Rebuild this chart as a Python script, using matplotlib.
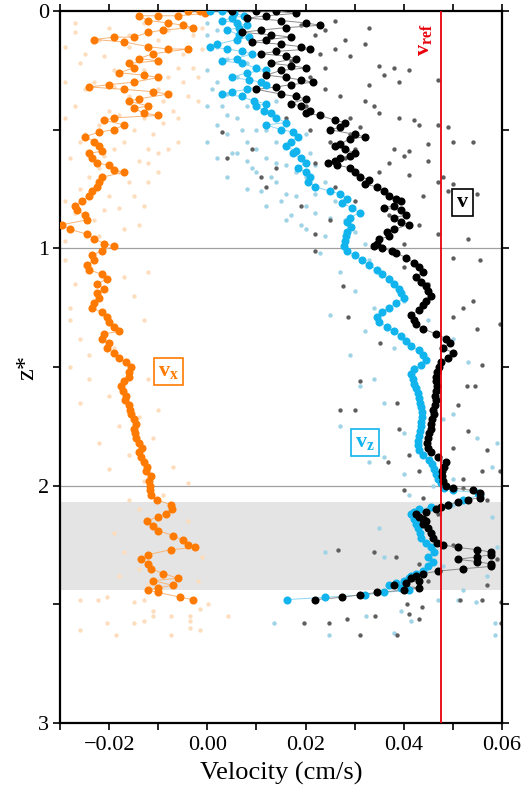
import numpy as np
import matplotlib.pyplot as plt

plt.rcParams.update({
    "font.family": ["Liberation Serif", "DejaVu Serif"],
    "mathtext.fontset": "custom",
    "mathtext.rm": "Liberation Serif",
    "mathtext.bf": "Liberation Serif:bold",
    "mathtext.it": "Liberation Serif:italic",
    "axes.linewidth": 1.6,
})

ORANGE, ORANGE_LT, ORANGE_LN = "#FF7A00", "#FDDDBE", "#F7B57A"
BLUE, BLUE_LT, BLUE_LN = "#12B4EE", "#9FD3E6", "#8ED6F2"
BLACK, GREY_PT, GREY_LN = "#000000", "#5E5E5E", "#8A8A8A"
RED = "#E8000B"

V_REF = 0.0475
BAND = (2.07, 2.44)

# ---- main profiles (depth z*, velocity cm/s) ----
VX_Z = [0.00, 0.00, 0.01, 0.02, 0.02, 0.02, 0.04, 0.05, 0.06, 0.07, 0.08, 0.09, 0.11, 0.11, 0.12,
        0.13, 0.15, 0.16, 0.16, 0.18, 0.20, 0.21, 0.22, 0.24, 0.26, 0.27, 0.28, 0.30, 0.31, 0.32,
        0.33, 0.34, 0.35, 0.37, 0.38, 0.40, 0.41, 0.43, 0.44, 0.45, 0.46, 0.48, 0.50, 0.51, 0.53,
        0.55, 0.57, 0.59, 0.60, 0.62, 0.64, 0.65, 0.67, 0.68, 0.70, 0.72, 0.74, 0.76, 0.78, 0.80,
        0.82, 0.84, 0.86, 0.88, 0.90, 0.92, 0.94, 0.96, 0.98, 0.99, 1.01, 1.03, 1.05, 1.07, 1.09,
        1.11, 1.13, 1.15, 1.17, 1.19, 1.21, 1.23, 1.25, 1.27, 1.29, 1.31, 1.33, 1.35, 1.36, 1.38,
        1.40, 1.42, 1.44, 1.46, 1.48, 1.50, 1.52, 1.54, 1.56, 1.58, 1.60, 1.62, 1.64, 1.66, 1.68,
        1.70, 1.72, 1.74, 1.76, 1.78, 1.80, 1.82, 1.84, 1.86, 1.88, 1.90, 1.92, 1.94, 1.96, 1.98,
        2.00, 2.02, 2.04, 2.06, 2.08, 2.10, 2.12, 2.13, 2.15, 2.17, 2.19, 2.21, 2.23, 2.25, 2.26,
        2.27, 2.29, 2.31, 2.33, 2.35, 2.37, 2.39, 2.40, 2.42, 2.43, 2.44, 2.45, 2.47, 2.48]
VX = [-0.0040, -0.0015, -0.0005, -0.0060, -0.0100, -0.0140, -0.0120, -0.0080, -0.0050, -0.0030,
      -0.0090, -0.0120, -0.0150, -0.0190, -0.0230, -0.0170, -0.0120, -0.0080, -0.0040, -0.0110,
      -0.0140, -0.0100, -0.0160, -0.0150, -0.0180, -0.0130, -0.0100, -0.0150, -0.0200, -0.0240,
      -0.0170, -0.0110, -0.0080, -0.0140, -0.0160, -0.0120, -0.0150, -0.0130, -0.0100, -0.0190,
      -0.0210, -0.0170, -0.0190, -0.0220, -0.0250, -0.0230, -0.0220, -0.0215, -0.0240, -0.0235,
      -0.0225, -0.0200, -0.0190, -0.0170, -0.0215, -0.0220, -0.0225, -0.0235, -0.0240, -0.0255,
      -0.0270, -0.0265, -0.0250, -0.0245, -0.0295, -0.0280, -0.0245, -0.0230, -0.0210, -0.0190,
      -0.0215, -0.0235, -0.0230, -0.0245, -0.0240, -0.0215, -0.0205, -0.0225, -0.0210, -0.0225,
      -0.0220, -0.0230, -0.0235, -0.0215, -0.0205, -0.0200, -0.0190, -0.0180, -0.0210, -0.0215,
      -0.0200, -0.0205, -0.0190, -0.0180, -0.0165, -0.0155, -0.0160, -0.0160, -0.0170, -0.0175,
      -0.0172, -0.0165, -0.0168, -0.0160, -0.0158, -0.0155, -0.0150, -0.0145, -0.0150, -0.0148,
      -0.0145, -0.0140, -0.0133, -0.0140, -0.0135, -0.0128, -0.0122, -0.0125, -0.0115, -0.0118,
      -0.0117, -0.0117, -0.0115, -0.0102, -0.0075, -0.0072, -0.0085, -0.0100, -0.0123, -0.0110,
      -0.0100, -0.0070, -0.0050, -0.0040, -0.0025, -0.0075, -0.0120, -0.0135, -0.0120, -0.0115,
      -0.0090, -0.0060, -0.0110, -0.0070, -0.0100, -0.0120, -0.0100, -0.0055, -0.0030]

VZ_Z = [0.00, 0.00, 0.01, 0.02, 0.03, 0.04, 0.05, 0.06, 0.07, 0.08, 0.10, 0.11, 0.12, 0.14, 0.15,
        0.16, 0.17, 0.18, 0.20, 0.21, 0.22, 0.24, 0.25, 0.26, 0.28, 0.29, 0.30, 0.31, 0.33, 0.34,
        0.35, 0.36, 0.38, 0.39, 0.40, 0.42, 0.43, 0.45, 0.47, 0.48, 0.50, 0.51, 0.53, 0.55, 0.57,
        0.59, 0.60, 0.62, 0.64, 0.66, 0.68, 0.70, 0.72, 0.74, 0.76, 0.77, 0.79, 0.81, 0.83, 0.85,
        0.87, 0.89, 0.91, 0.93, 0.95, 0.97, 0.99, 1.01, 1.03, 1.05, 1.07, 1.09, 1.11, 1.13, 1.15,
        1.17, 1.19, 1.21, 1.23, 1.25, 1.27, 1.29, 1.31, 1.33, 1.35, 1.37, 1.39, 1.41, 1.43, 1.45,
        1.47, 1.49, 1.51, 1.53, 1.55, 1.57, 1.59, 1.61, 1.63, 1.65, 1.67, 1.69, 1.71, 1.73, 1.75,
        1.77, 1.79, 1.81, 1.83, 1.85, 1.87, 1.89, 1.91, 1.93, 1.95, 1.97, 1.99, 2.01, 2.02, 2.03,
        2.04, 2.06, 2.08, 2.09, 2.10, 2.11, 2.12, 2.14, 2.16, 2.18, 2.20, 2.22, 2.24, 2.26, 2.28,
        2.30, 2.32, 2.34, 2.36, 2.37, 2.38, 2.39, 2.40, 2.41, 2.42, 2.43, 2.44, 2.45, 2.46, 2.47,
        2.48]
VZ = [0.0005, 0.0030, 0.0055, 0.0075, 0.0050, 0.0030, 0.0060, 0.0080, 0.0065, 0.0040,
      0.0065, 0.0085, 0.0060, 0.0020, 0.0005, 0.0040, 0.0070, 0.0090, 0.0060, 0.0030,
      0.0070, 0.0100, 0.0120, 0.0080, 0.0050, 0.0085, 0.0110, 0.0120, 0.0080, 0.0050,
      0.0030, 0.0070, 0.0095, 0.0120, 0.0100, 0.0115, 0.0130, 0.0140, 0.0160, 0.0120,
      0.0150, 0.0175, 0.0185, 0.0170, 0.0160, 0.0180, 0.0175, 0.0190, 0.0200, 0.0185,
      0.0200, 0.0210, 0.0205, 0.0220, 0.0250, 0.0270, 0.0285, 0.0275, 0.0295, 0.0310,
      0.0290, 0.0285, 0.0292, 0.0285, 0.0282, 0.0280, 0.0278, 0.0285, 0.0300, 0.0315,
      0.0330, 0.0345, 0.0355, 0.0370, 0.0380, 0.0390, 0.0395, 0.0400, 0.0385, 0.0370,
      0.0355, 0.0345, 0.0350, 0.0365, 0.0380, 0.0395, 0.0405, 0.0415, 0.0430, 0.0440,
      0.0445, 0.0435, 0.0420, 0.0415, 0.0418, 0.0420, 0.0425, 0.0428, 0.0430, 0.0433,
      0.0435, 0.0437, 0.0437, 0.0436, 0.0435, 0.0433, 0.0430, 0.0428, 0.0428, 0.0430,
      0.0440, 0.0452, 0.0458, 0.0462, 0.0466, 0.0470, 0.0475, 0.0482, 0.0500, 0.0552,
      0.0555, 0.0520, 0.0490, 0.0455, 0.0430, 0.0420, 0.0415, 0.0420, 0.0425, 0.0428,
      0.0432, 0.0435, 0.0445, 0.0455, 0.0462, 0.0450, 0.0460, 0.0450, 0.0440, 0.0425,
      0.0415, 0.0410, 0.0400, 0.0385, 0.0370, 0.0395, 0.0410, 0.0360, 0.0320, 0.0240,
      0.0162]

V_Z = [0.00, 0.00, 0.00, 0.01, 0.02, 0.03, 0.04, 0.05, 0.06, 0.07, 0.08, 0.09, 0.10, 0.11, 0.12,
       0.13, 0.14, 0.15, 0.16, 0.17, 0.18, 0.19, 0.20, 0.22, 0.23, 0.24, 0.25, 0.27, 0.28, 0.29,
       0.30, 0.31, 0.32, 0.33, 0.35, 0.36, 0.37, 0.39, 0.40, 0.42, 0.43, 0.44, 0.46, 0.47, 0.49,
       0.50, 0.52, 0.53, 0.54, 0.56, 0.57, 0.58, 0.60, 0.61, 0.62, 0.63, 0.64, 0.65, 0.66, 0.68,
       0.70, 0.71, 0.73, 0.74, 0.76, 0.78, 0.79, 0.80, 0.82, 0.83, 0.84, 0.86, 0.87, 0.89, 0.90,
       0.92, 0.93, 0.95, 0.96, 0.98, 0.99, 1.00, 1.01, 1.02, 1.04, 1.06, 1.08, 1.10, 1.12, 1.14,
       1.16, 1.18, 1.20, 1.22, 1.24, 1.26, 1.28, 1.30, 1.32, 1.34, 1.36, 1.38, 1.40, 1.42, 1.44,
       1.46, 1.48, 1.50, 1.52, 1.54, 1.56, 1.58, 1.60, 1.62, 1.64, 1.66, 1.68, 1.70, 1.72, 1.74,
       1.76, 1.78, 1.80, 1.82, 1.84, 1.86, 1.88, 1.90, 1.92, 1.94, 1.96, 1.98, 2.00, 2.01, 2.02,
       2.03, 2.05, 2.06, 2.07, 2.08, 2.09, 2.10, 2.11, 2.12, 2.13, 2.14, 2.15, 2.16, 2.18, 2.20,
       2.22, 2.24, 2.25, 2.26, 2.27, 2.28, 2.29, 2.30, 2.31, 2.32, 2.33, 2.34, 2.35, 2.36, 2.37,
       2.38, 2.39, 2.40, 2.41, 2.42, 2.43, 2.44, 2.45, 2.46, 2.47, 2.48]
V = [0.0050, 0.0100, 0.0140, 0.0180, 0.0120, 0.0080, 0.0150, 0.0200, 0.0230, 0.0160,
     0.0110, 0.0070, 0.0130, 0.0170, 0.0120, 0.0090, 0.0150, 0.0190, 0.0210, 0.0140,
     0.0110, 0.0160, 0.0180, 0.0130, 0.0170, 0.0200, 0.0150, 0.0120, 0.0160, 0.0190,
     0.0215, 0.0170, 0.0140, 0.0100, 0.0150, 0.0180, 0.0200, 0.0170, 0.0190, 0.0210,
     0.0200, 0.0230, 0.0260, 0.0280, 0.0270, 0.0250, 0.0300, 0.0320, 0.0290, 0.0270,
     0.0260, 0.0280, 0.0300, 0.0290, 0.0270, 0.0260, 0.0245, 0.0265, 0.0290, 0.0300,
     0.0310, 0.0330, 0.0320, 0.0345, 0.0360, 0.0370, 0.0385, 0.0395, 0.0380, 0.0360,
     0.0395, 0.0405, 0.0380, 0.0395, 0.0410, 0.0380, 0.0365, 0.0370, 0.0350, 0.0345,
     0.0340, 0.0355, 0.0375, 0.0385, 0.0405, 0.0420, 0.0430, 0.0440, 0.0425, 0.0435,
     0.0445, 0.0450, 0.0455, 0.0445, 0.0440, 0.0430, 0.0415, 0.0420, 0.0425, 0.0440,
     0.0465, 0.0485, 0.0495, 0.0480, 0.0500, 0.0490, 0.0475, 0.0472, 0.0468, 0.0465,
     0.0466, 0.0468, 0.0465, 0.0464, 0.0466, 0.0463, 0.0460, 0.0462, 0.0458, 0.0455,
     0.0456, 0.0452, 0.0450, 0.0448, 0.0450, 0.0455, 0.0470, 0.0485, 0.0482, 0.0478,
     0.0478, 0.0480, 0.0485, 0.0500, 0.0540, 0.0555, 0.0555, 0.0530, 0.0510, 0.0490,
     0.0475, 0.0465, 0.0445, 0.0425, 0.0430, 0.0440, 0.0445, 0.0440, 0.0450, 0.0455,
     0.0460, 0.0468, 0.0480, 0.0510, 0.0550, 0.0578, 0.0578, 0.0550, 0.0510, 0.0550,
     0.0578, 0.0578, 0.0520, 0.0470, 0.0440, 0.0425, 0.0415, 0.0430, 0.0405, 0.0380,
     0.0430, 0.0400, 0.0345, 0.0310, 0.0275, 0.0220]

# ---- individual (faint) samples ----
VX_PTS_X = [-0.029, -0.029, -0.029, -0.028, -0.029, -0.029, -0.027, -0.026, -0.027, -0.026, -0.026,
            -0.022, -0.023, -0.022, -0.022, -0.023, -0.020, -0.019, -0.020, -0.019, -0.020,
            -0.016, -0.016, -0.017, -0.016, -0.017, -0.013, -0.013, -0.013, -0.014, -0.013,
            -0.010, -0.010, -0.010, -0.011, -0.010, -0.008, -0.008, -0.007, -0.008,
            -0.005, -0.005, -0.005, -0.006, -0.003, -0.003, -0.002, -0.001, -0.001,
            -0.027, -0.025, -0.021, -0.018, -0.015, -0.012, -0.009, -0.006, -0.004, -0.002,
            -0.025, -0.021, -0.018, -0.015, -0.012, -0.009, -0.006, -0.024, -0.018, -0.012,
            -0.022, -0.015, -0.010, -0.027, -0.021, -0.014, -0.019, -0.025, -0.016,
            -0.029, -0.027, -0.012, -0.015, -0.028, -0.026, -0.013, -0.019, -0.028, -0.024,
            -0.012, -0.020, -0.026, -0.010, -0.018, -0.022, -0.011, -0.016, -0.007, -0.020,
            -0.013, -0.004, -0.009, -0.028, -0.024, -0.017, -0.014,
            -0.016, -0.014, -0.019, -0.004, -0.017, -0.003, -0.014, -0.001, -0.012, -0.002, -0.018,
            -0.0259, -0.0222, -0.0204, -0.0149, -0.0129, -0.0111, -0.0111, -0.0129, -0.0074,
            -0.0035, -0.0035, -0.0015, 0.0001, 0.0042, -0.0204, -0.0149, -0.0259, -0.0186,
            -0.0074, -0.0035, -0.0015]
VX_PTS_Z = [0.15, 0.30, 0.45, 0.62, 0.80, 0.97, 0.05, 0.22, 0.40, 0.55, 0.75,
            0.12, 0.30, 0.48, 0.66, 0.88, 0.07, 0.25, 0.42, 0.58, 0.78,
            0.15, 0.36, 0.55, 0.72, 0.92, 0.05, 0.25, 0.45, 0.63, 0.82,
            0.12, 0.20, 0.33, 0.52, 0.68, 0.08, 0.28, 0.42, 0.58,
            0.05, 0.18, 0.30, 0.45, 0.10, 0.24, 0.38, 0.07, 0.16,
            0.09, 0.33, 0.19, 0.44, 0.29, 0.58, 0.38, 0.24, 0.36, 0.28,
            0.52, 0.61, 0.68, 0.50, 0.72, 0.47, 0.55, 0.70, 0.83, 0.64,
            0.95, 0.78, 0.60, 0.85, 0.84, 0.90, 0.32, 0.18, 0.10,
            1.05, 1.15, 1.10, 1.20, 1.30, 1.38, 1.30, 1.42, 1.50, 1.55,
            1.55, 1.62, 1.65, 1.68, 1.75, 1.82, 1.80, 1.87, 1.92, 1.93,
            1.98, 1.99, 2.04, 1.25, 1.45, 1.12, 1.71,
            2.06, 2.10, 2.20, 2.15, 2.28, 2.25, 2.35, 2.30, 2.42, 2.40, 2.38,
            2.48, 2.48, 2.47, 2.49, 2.48, 2.53, 2.55, 2.57, 2.55,
            2.55, 2.57, 2.52, 2.50, 2.55, 2.58, 2.58, 2.61, 2.63,
            2.63, 2.60, 2.61]

VZ_PTS_X = [0.000, 0.000, 0.000, 0.000, 0.002, 0.002, 0.002, 0.002, 0.004, 0.004, 0.004, 0.004,
            0.006, 0.006, 0.006, 0.008, 0.008, 0.008, 0.008, 0.010, 0.010, 0.010, 0.012, 0.012,
            0.012, 0.014, 0.014, 0.014, 0.016, 0.016, 0.016, 0.018, 0.018, 0.020, 0.020, 0.020,
            0.022, 0.022, 0.024, 0.024, 0.026, 0.028, 0.030, 0.032,
            0.000, 0.002, 0.004, 0.006, 0.008, 0.010, 0.012, 0.014, 0.016, 0.018, 0.020, 0.022,
            0.001, 0.003, 0.005, 0.007, 0.009, 0.011, 0.013, 0.015, 0.017, 0.019, 0.021, 0.025,
            0.023, 0.027, 0.033, 0.037, 0.030, 0.025, 0.034, 0.040, 0.032, 0.045, 0.038, 0.029,
            0.050, 0.042, 0.034, 0.047, 0.053, 0.036, 0.050, 0.027, 0.040, 0.055, 0.045, 0.033,
            0.058, 0.040, 0.050, 0.059, 0.046, 0.031, 0.036, 0.044, 0.048,
            0.041, 0.050, 0.058, 0.035, 0.046, 0.059, 0.024, 0.036, 0.048, 0.057, 0.040, 0.052,
            0.0135, 0.0248, 0.0323, 0.0380, 0.0394, 0.0415, 0.0470, 0.0510, 0.0548, 0.0586, 0.0586]
VZ_PTS_Z = [0.10, 0.25, 0.40, 0.55, 0.15, 0.30, 0.48, 0.62, 0.20, 0.35, 0.52, 0.70,
            0.28, 0.45, 0.60, 0.22, 0.40, 0.55, 0.75, 0.32, 0.50, 0.68, 0.42, 0.62,
            0.82, 0.38, 0.55, 0.72, 0.47, 0.65, 0.88, 0.58, 0.78, 0.52, 0.70, 0.92,
            0.65, 0.85, 0.72, 0.95, 0.80, 0.88, 0.93, 0.98,
            0.05, 0.08, 0.44, 0.12, 0.63, 0.58, 0.50, 0.64, 0.77, 0.68, 0.82, 0.77,
            0.33, 0.40, 0.60, 0.50, 0.66, 0.76, 0.70, 0.80, 0.86, 0.90, 0.60, 0.87,
            1.02, 1.10, 1.05, 1.12, 1.18, 1.28, 1.25, 1.22, 1.35, 1.30, 1.42, 1.45,
            1.38, 1.50, 1.55, 1.60, 1.48, 1.65, 1.70, 1.75, 1.78, 1.80, 1.85, 1.90,
            1.92, 1.95, 1.97, 1.82, 2.00, 1.58, 1.88, 1.15, 1.72,
            2.04, 2.08, 2.13, 2.18, 2.20, 2.26, 2.28, 2.30, 2.34, 2.38, 2.40, 2.44,
            2.58, 2.63, 2.55, 2.62, 2.53, 2.57, 2.48, 2.48, 2.49, 2.58, 2.63]

V_PTS_X = [0.026, 0.024, 0.033, 0.032, 0.028, 0.026, 0.029, 0.024, 0.035, 0.038, 0.041, 0.036,
           0.039, 0.033, 0.047, 0.032, 0.034, 0.035, 0.039, 0.042, 0.043, 0.047, 0.049, 0.050,
           0.054, 0.045, 0.038, 0.041, 0.029, 0.030, 0.040, 0.045, 0.037, 0.035, 0.041, 0.048,
           0.047, 0.050, 0.049, 0.055, 0.044, 0.003, 0.004, 0.012, 0.009, 0.011, 0.014, 0.019,
           0.022, 0.025, 0.037, 0.043, 0.047, 0.053, 0.040, 0.016, 0.020, 0.021,
           0.019, 0.022, 0.017, 0.023, 0.021, 0.018, 0.024, 0.027, 0.029, 0.031, 0.025, 0.028,
           0.022, 0.026, 0.030, 0.033,
           0.022, 0.0276, 0.0287, 0.031, 0.027, 0.030, 0.0352, 0.0368, 0.039, 0.041, 0.043,
           0.050, 0.0555, 0.052, 0.054, 0.050, 0.0595, 0.055, 0.056, 0.0528, 0.0545, 0.051,
           0.053, 0.057, 0.0595, 0.050, 0.056, 0.052, 0.0386, 0.045, 0.040,
           0.040, 0.044, 0.057, 0.052, 0.047, 0.0266, 0.034, 0.0385, 0.043, 0.050, 0.059,
           0.045, 0.057,
           0.0197, 0.0248, 0.0285, 0.031, 0.0341, 0.0386, 0.0407, 0.041, 0.0431, 0.0437,
           0.0514, 0.0559, 0.0597, 0.0597]
V_PTS_Z = [0.04, 0.08, 0.07, 0.14, 0.12, 0.16, 0.19, 0.24, 0.23, 0.24, 0.25, 0.27,
           0.30, 0.31, 0.29, 0.38, 0.40, 0.43, 0.45, 0.46, 0.48, 0.48, 0.49, 0.55,
           0.55, 0.56, 0.58, 0.59, 0.52, 0.58, 0.61, 0.63, 0.64, 0.68, 0.69, 0.70,
           0.72, 0.73, 0.76, 0.77, 0.78, 0.51, 0.62, 0.74, 0.58, 0.70, 0.66, 0.82,
           0.94, 0.88, 0.86, 0.90, 0.94, 0.96, 0.98, 0.45, 0.40, 0.50,
           0.06, 0.10, 0.21, 0.18, 0.28, 0.35, 0.33, 0.36, 0.45, 0.49, 0.55, 0.62,
           0.64, 0.74, 0.80, 0.72,
           1.01, 1.16, 1.29, 1.56, 1.68, 1.68, 1.40, 1.90, 1.76, 1.87, 1.94,
           1.04, 1.05, 1.25, 1.22, 1.29, 1.32, 1.34, 1.49, 1.58, 1.58, 1.66,
           1.77, 1.85, 1.94, 1.84, 1.94, 1.97, 1.65, 1.15, 1.08,
           2.02, 2.05, 2.06, 2.01, 2.12, 2.27, 2.28, 2.30, 2.33, 2.25, 2.31,
           2.40, 2.42,
           2.58, 2.58, 2.56, 2.63, 2.55, 2.63, 2.50, 2.54, 2.56, 2.51,
           2.48, 2.48, 2.58, 2.49]


fig = plt.figure(figsize=(5.26, 7.94), dpi=100)
ax = fig.add_axes([0.1141, 0.0894, 0.8403, 0.8967])

ax.axhspan(*BAND, color="#E4E4E4", lw=0, zorder=0)
ax.axhline(1, color="#A0A0A0", lw=0.9, zorder=1)
ax.axhline(2, color="#A0A0A0", lw=0.9, zorder=1)

ax.scatter(VX_PTS_X, VX_PTS_Z, s=10, color=ORANGE_LT, lw=0, zorder=2)
ax.scatter(VZ_PTS_X, VZ_PTS_Z, s=10, color=BLUE_LT, lw=0, zorder=2)
ax.scatter(V_PTS_X, V_PTS_Z, s=10, color=GREY_PT, lw=0, zorder=2)

for zz, vv, c, lc in [(VX_Z, VX, ORANGE, ORANGE_LN), (VZ_Z, VZ, BLUE, BLUE_LN), (V_Z, V, BLACK, GREY_LN)]:
    ax.plot(vv, zz, color=lc, lw=0.7, zorder=3)
    ax.plot(vv, zz, "o", color=c, ms=5.8, mew=0, zorder=4)

ax.axvline(V_REF, color=RED, lw=1.3, zorder=5)

ax.set_xlim(-0.03, 0.06)
ax.set_ylim(3, 0)
ax.set_xticks([-0.02, 0.00, 0.02, 0.04, 0.06])
ax.set_xticklabels(["\u22120.02", "0.00", "0.02", "0.04", "0.06"])
ax.set_xticks(np.arange(-0.03, 0.061, 0.01), minor=True)
ax.set_yticks([0, 1, 2, 3])
ax.set_yticks([0.5, 1.5, 2.5], minor=True)
ax.tick_params(which="both", direction="out", length=5, width=1.2, top=True, right=True,
               labelsize=16, pad=3)
ax.tick_params(axis="x", pad=4)

ax.set_xlabel("Velocity (cm/s)", fontsize=19, labelpad=5)
ax.set_ylabel("z*", fontsize=19, labelpad=0)

box = dict(boxstyle="square,pad=0.18", fc="white", lw=1.2)
ax.text(-0.0080, 1.517, r"$\mathbf{v_x}$", color=ORANGE, fontsize=16, ha="center", va="center",
        bbox=dict(box, ec=ORANGE), zorder=6)
ax.text(0.0321, 1.816, r"$\mathbf{v_z}$", color=BLUE, fontsize=16, ha="center", va="center",
        bbox=dict(box, ec=BLUE), zorder=6)
ax.text(0.0519, 0.805, r"$\mathbf{v}$", color=BLACK, fontsize=16, ha="center", va="center",
        bbox=dict(box, ec=BLACK), zorder=6)
ax.text(0.0442, 0.12, r"$\mathbf{v_{ref}}$", color=RED, fontsize=16, ha="center", va="center",
        rotation=90, zorder=6)

fig.savefig("out.png", dpi=100)
